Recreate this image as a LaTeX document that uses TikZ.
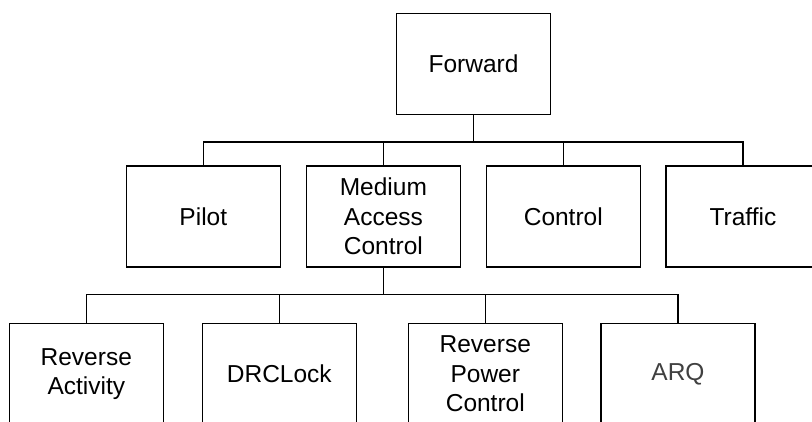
\documentclass[tikz,border=0pt]{standalone}
\usepackage{fontspec}
\setmainfont{Liberation Sans}
\begin{document}
\begin{tikzpicture}[x=1pt,y=-1pt,
  box/.style={draw=black, line width=1.5pt, minimum width=154pt, minimum height=101pt,
    inner sep=0pt, align=center, font=\fontsize{24.5}{29.5}\selectfont},
  conn/.style={draw=black, line width=1.5pt}]
\useasboundingbox (0,0) rectangle (812,421);
\clip (0,0) rectangle (812,421);
% top
\node[box] (fwd) at (473.5,64) {Forward};
% second row
\node[box] (pilot)   at (203.3,216.5) {Pilot};
\node[box] (mac)     at (383.4,216.5) {Medium\\Access\\Control};
\node[box] (control) at (563.3,216.5) {Control};
\node[box] (traffic) at (743,216.5) {Traffic};
% third row
\node[box] (ra)   at (86.3,374) {Reverse\\Activity};
\node[box] (drc)  at (279.3,374) {DRCLock};
\node[box] (rpc)  at (485.3,374) {Reverse\\Power\\Control};
\node[box, text=black!75] (arq) at (678,374) {ARQ};
% connectors
\foreach \c in {pilot,mac,control,traffic}
  \draw[conn] (fwd.south) -- ++(0,26.5) -| (\c.north);
\foreach \c in {ra,drc,rpc,arq}
  \draw[conn] (mac.south) -- ++(0,26.5) -| (\c.north);
\end{tikzpicture}
\end{document}
